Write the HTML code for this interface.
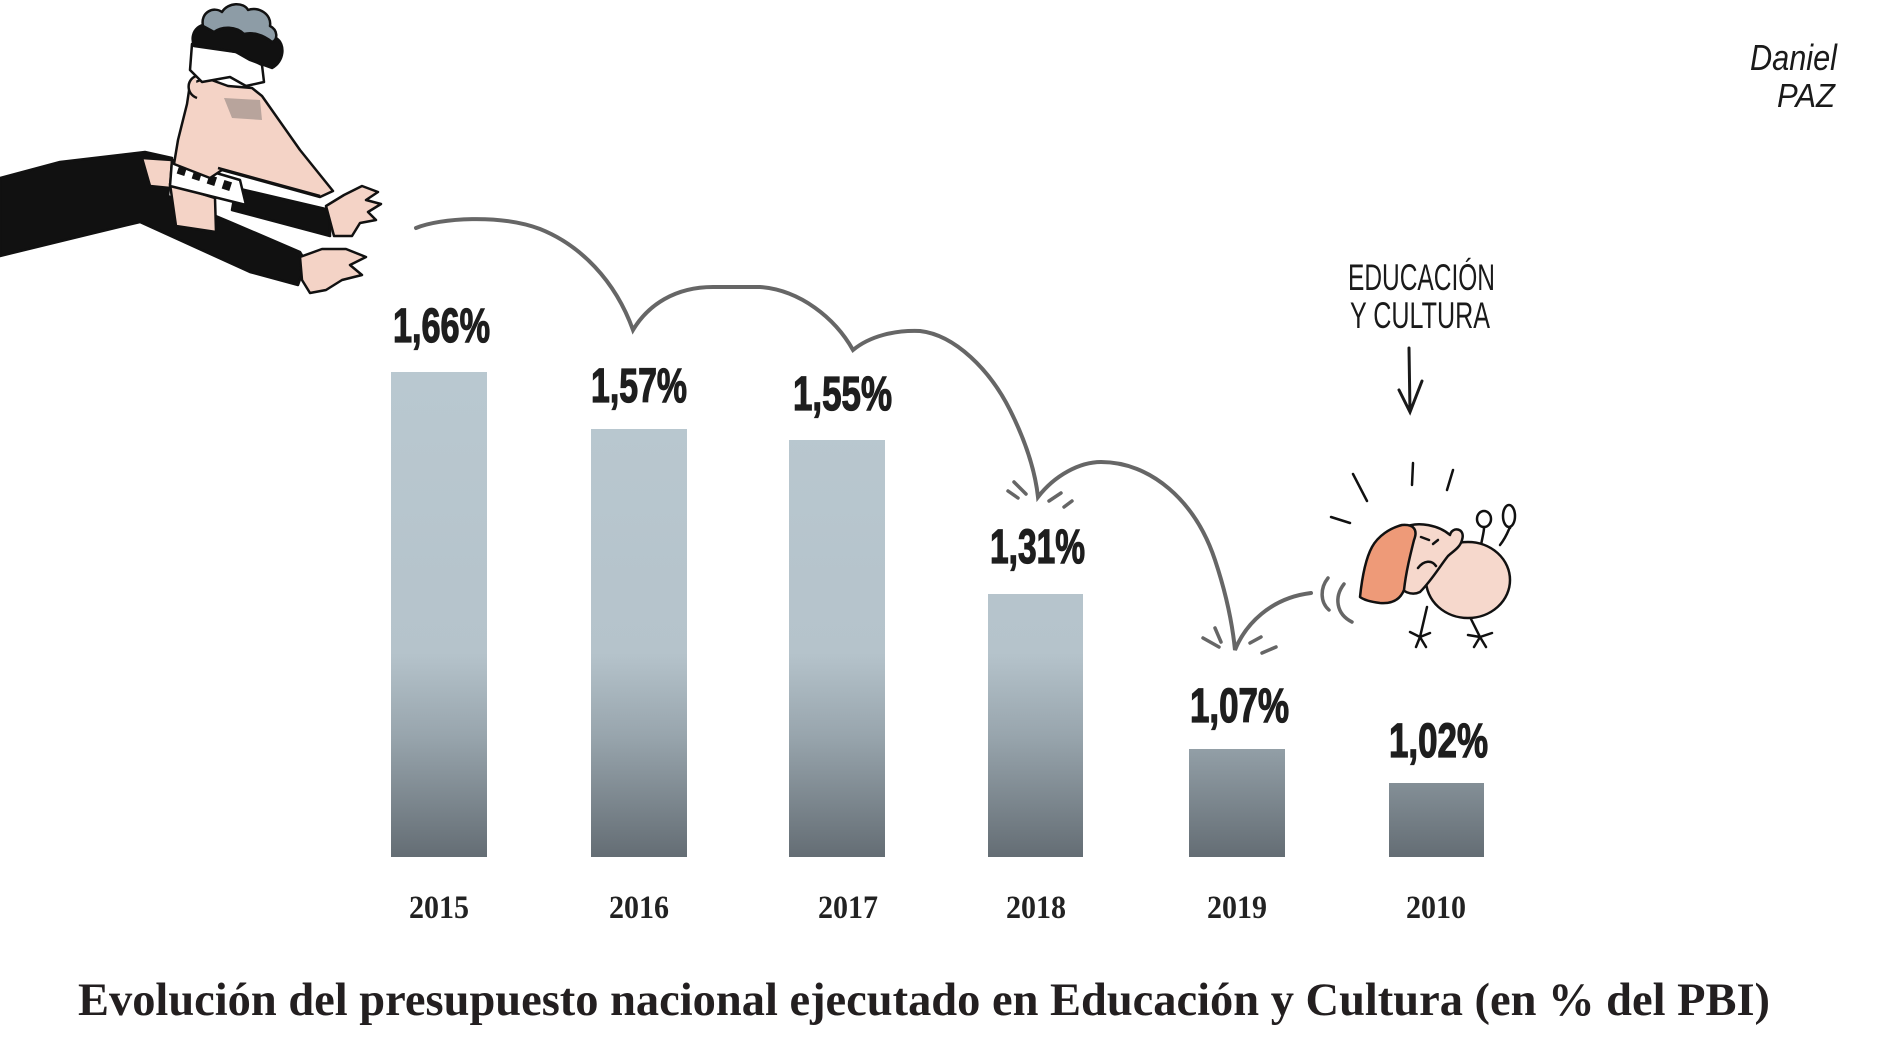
<!DOCTYPE html>
<html>
<head>
<meta charset="utf-8">
<style>
  html,body{margin:0;padding:0;background:#ffffff;}
  body{width:1890px;height:1063px;overflow:hidden;}
  svg{display:block;}
  .val{font-family:"Liberation Sans Narrow","Liberation Sans",sans-serif;font-weight:bold;font-size:48px;fill:#1e1e1e;stroke:#1e1e1e;stroke-width:1.3px;}
  .yr{font-family:"Liberation Serif",serif;font-weight:bold;font-size:33px;fill:#222;}
  .ttl{font-family:"Liberation Serif",serif;font-weight:bold;font-size:47px;fill:#231f20;}
  .hand{font-family:"Liberation Sans",sans-serif;font-size:37px;fill:#1a1a1a;}
  .sig{font-family:"Liberation Sans",sans-serif;font-style:italic;fill:#1a1a1a;}
</style>
</head>
<body>
<svg width="1890" height="1063" viewBox="0 0 1890 1063" xmlns="http://www.w3.org/2000/svg">
  <defs>
    <linearGradient id="bg" gradientUnits="userSpaceOnUse" x1="0" y1="372" x2="0" y2="857">
      <stop offset="0" stop-color="#b9c8d0"/>
      <stop offset="0.58" stop-color="#b5c3cb"/>
      <stop offset="0.75" stop-color="#98a5ad"/>
      <stop offset="1" stop-color="#646d74"/>
    </linearGradient>
  </defs>

  <!-- Bars -->
  <rect x="391" y="372" width="96" height="485" fill="url(#bg)"/>
  <rect x="591" y="429" width="96" height="428" fill="url(#bg)"/>
  <rect x="789" y="440" width="96" height="417" fill="url(#bg)"/>
  <rect x="988" y="594" width="95" height="263" fill="url(#bg)"/>
  <rect x="1189" y="749" width="96" height="108" fill="url(#bg)"/>
  <rect x="1389" y="783" width="95" height="74" fill="url(#bg)"/>

  <!-- Value labels -->
  <text class="val" x="393" y="342" textLength="97" lengthAdjust="spacingAndGlyphs">1,66%</text>
  <text class="val" x="591" y="402" textLength="96" lengthAdjust="spacingAndGlyphs">1,57%</text>
  <text class="val" x="793" y="410" textLength="99" lengthAdjust="spacingAndGlyphs">1,55%</text>
  <text class="val" x="990" y="563" textLength="95" lengthAdjust="spacingAndGlyphs">1,31%</text>
  <text class="val" x="1190" y="722" textLength="99" lengthAdjust="spacingAndGlyphs">1,07%</text>
  <text class="val" x="1389" y="757" textLength="99" lengthAdjust="spacingAndGlyphs">1,02%</text>

  <!-- Year labels -->
  <text class="yr" x="409" y="918" textLength="60" lengthAdjust="spacingAndGlyphs">2015</text>
  <text class="yr" x="609" y="918" textLength="60" lengthAdjust="spacingAndGlyphs">2016</text>
  <text class="yr" x="818" y="918" textLength="60" lengthAdjust="spacingAndGlyphs">2017</text>
  <text class="yr" x="1006" y="918" textLength="60" lengthAdjust="spacingAndGlyphs">2018</text>
  <text class="yr" x="1207" y="918" textLength="60" lengthAdjust="spacingAndGlyphs">2019</text>
  <text class="yr" x="1406" y="918" textLength="60" lengthAdjust="spacingAndGlyphs">2010</text>

  <!-- Title -->
  <text class="ttl" x="78" y="1015" textLength="1692" lengthAdjust="spacingAndGlyphs">Evolución del presupuesto nacional ejecutado en Educación y Cultura (en % del PBI)</text>

  <!-- Bouncing curve -->
  <path d="M416,228 C440,218 500,214 540,229 C580,245 615,280 633,330
           C648,305 675,287 713,287 L760,287 C800,290 835,318 853,350
           C870,336 895,330 920,331 C955,335 990,370 1010,410 C1025,440 1035,470 1038,497
           C1055,475 1080,462 1101,462 C1150,462 1195,500 1215,560 C1225,590 1232,620 1235,650
           C1245,625 1270,598 1311,593"
        fill="none" stroke="#666666" stroke-width="4" stroke-linecap="round" stroke-linejoin="miter"/>

  <!-- Impact marks -->
  <g stroke="#666666" stroke-width="3.5" stroke-linecap="round" fill="none">
    <path d="M1008,491 L1018,498"/>
    <path d="M1014,482 L1026,494"/>
    <path d="M1049,501 L1061,493"/>
    <path d="M1064,507 L1072,501"/>
    <path d="M1203,638 L1219,647"/>
    <path d="M1215,628 L1221,642"/>
    <path d="M1250,643 L1261,637"/>
    <path d="M1262,653 L1276,647"/>
    <!-- motion brackets near chick -->
    <path d="M1328,578 C1320,588 1320,602 1329,610"/>
    <path d="M1344,584 C1334,597 1336,614 1352,622"/>
  </g>

  <!-- Man figure -->
  <g stroke="#111" stroke-width="2.5" stroke-linejoin="round">
    <!-- main black sleeve / body -->
    <path d="M0,178 L60,162 L145,152 L172,158 L168,196 L230,222 L300,252 L306,262 L298,285 L250,272 L140,222 L90,234 L0,256 Z" fill="#111"/>
    <!-- upper arm -->
    <path d="M236,188 L330,210 L330,236 L232,210 Z" fill="#111"/>
    <!-- shoulder pink patch -->
    <path d="M142,158 L172,160 L170,188 L150,186 Z" fill="#f4d3c6"/>
    <!-- neck -->
    <path d="M170,184 L215,198 L216,232 L176,226 Z" fill="#f4d3c6"/>
    <!-- collar -->
    <path d="M172,160 L240,180 L246,205 L170,186 Z" fill="#ffffff"/>
    <g fill="#111" stroke="none">
      <rect x="178" y="166" width="8" height="9" transform="rotate(18 182 170)"/>
      <rect x="193" y="171" width="8" height="9" transform="rotate(18 197 175)"/>
      <rect x="208" y="176" width="8" height="9" transform="rotate(18 212 180)"/>
      <rect x="223" y="181" width="8" height="9" transform="rotate(18 227 185)"/>
    </g>
    <!-- face -->
    <path d="M190,84 L206,78 L228,86 L252,88 L262,96 L300,150 L333,191 L320,197 L222,170 L210,178 L174,164 L178,140 L187,104 Z" fill="#f4d3c6"/>
    <!-- mouth shade -->
    <path d="M224,98 L260,100 L262,120 L232,118 Z" fill="#b8a49c" stroke="none"/>
    <path d="M218,168 L320,196" fill="none"/>
    <!-- ear -->
    <path d="M196,76 C186,80 186,94 197,98" fill="#f4d3c6"/>
    <!-- glasses / white band -->
    <path d="M192,44 L236,52 L262,65 L264,82 L246,86 L230,77 L202,82 L190,70 Z" fill="#ffffff"/>
    <!-- hair black -->
    <path d="M194,46 C188,30 203,20 214,26 C222,14 240,16 246,24 C258,16 274,24 276,38 C286,44 284,62 272,68 L250,60 L236,52 Z" fill="#111"/>
    <!-- hair grey top -->
    <path d="M203,26 C200,12 214,6 222,12 C228,2 244,2 248,10 C258,6 272,14 270,26 C278,30 278,40 272,42 C262,34 252,32 244,34 C236,26 222,26 214,32 Z" fill="#8d9ca6"/>
    <!-- hands -->
    <path d="M326,206 L344,195 L362,186 L378,192 L366,200 L381,204 L368,212 L376,220 L360,223 L352,236 L334,236 Z" fill="#f4d3c6"/>
    <path d="M300,257 L322,249 L346,249 L366,257 L350,265 L362,275 L342,280 L326,290 L310,293 L302,280 Z" fill="#f4d3c6"/>
  </g>

  <!-- Chick -->
  <g stroke="#111" stroke-width="2.5" stroke-linejoin="round" stroke-linecap="round">
    <!-- tail stalks -->
    <path d="M1480,567 C1478,550 1484,535 1484,528" fill="none"/>
    <path d="M1500,545 C1508,535 1510,525 1510,528" fill="none"/>
    <ellipse cx="1484" cy="519" rx="7" ry="8" fill="#ffffff"/>
    <ellipse cx="1509" cy="516" rx="6" ry="11" fill="#ffffff"/>
    <!-- legs -->
    <path d="M1427,607 L1420,637 M1410,632 L1420,637 L1430,633 M1420,637 L1416,647 M1420,637 L1426,647" fill="none"/>
    <path d="M1470,617 L1480,637 M1468,635 L1480,637 L1492,633 M1480,637 L1474,647 M1480,637 L1486,647" fill="none"/>
    <!-- body -->
    <ellipse cx="1468" cy="580" rx="42" ry="38" fill="#f6d8cc"/>
    <!-- face -->
    <path d="M1403,528 C1418,520 1440,526 1450,535 C1452,526 1466,528 1462,540 C1460,548 1452,552 1448,556 C1440,566 1432,580 1420,592 C1412,596 1400,592 1398,582 Z" fill="#f6d8cc"/>
    <!-- hair -->
    <path d="M1360,597 C1362,578 1366,558 1372,547 C1378,536 1390,528 1402,525 C1414,524 1418,530 1414,540 C1410,556 1406,572 1404,590 C1400,600 1392,604 1380,603 C1372,602 1364,600 1360,597 Z" fill="#ee9a78"/>
    <!-- face details -->
    <path d="M1421,537 L1429,540 M1438,540 L1433,544 M1418,568 C1424,560 1432,560 1436,566" fill="none"/>
    <!-- shock lines -->
    <path d="M1353,474 L1367,501 M1413,463 L1412,485 M1453,470 L1447,490 M1331,517 L1350,523" fill="none"/>
  </g>

  <!-- Educación y Cultura label -->
  <text class="hand" x="1348" y="290" textLength="147" lengthAdjust="spacingAndGlyphs">EDUCACIÓN</text>
  <text class="hand" x="1350" y="328" textLength="140" lengthAdjust="spacingAndGlyphs">Y CULTURA</text>
  <path d="M1409,348 L1410,412 M1399,390 L1410,412 L1422,381" fill="none" stroke="#1a1a1a" stroke-width="3" stroke-linecap="round"/>

  <!-- Signature -->
  <text class="sig" x="1750" y="70" font-size="36" textLength="87" lengthAdjust="spacingAndGlyphs">Daniel</text>
  <text class="sig" x="1777" y="107" font-size="33" textLength="58" lengthAdjust="spacingAndGlyphs">PAZ</text>
</svg>
</body>
</html>
